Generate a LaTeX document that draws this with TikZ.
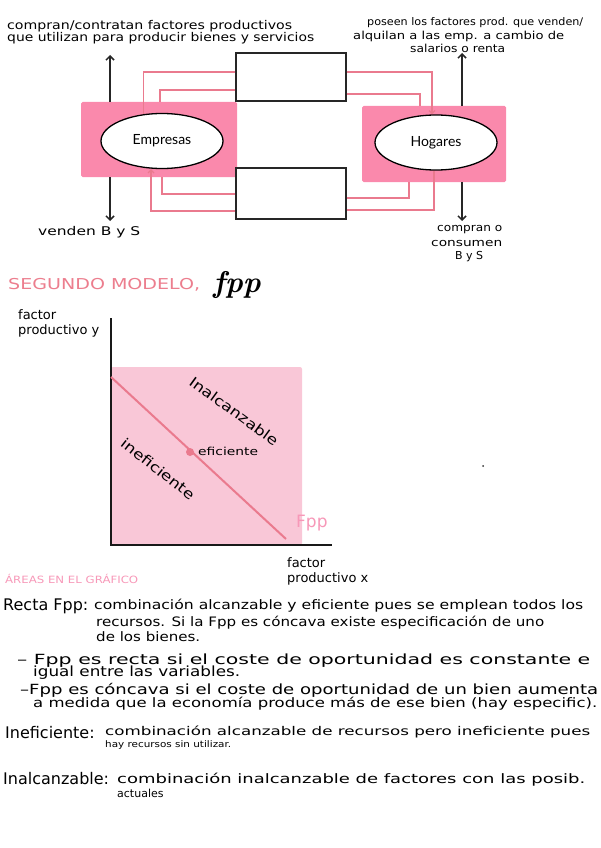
\documentclass[tikz,border=0pt]{standalone}
\usepackage{graphicx}
\usepackage{fontspec}
\newfontfamily\hand{DejaVu Sans}
\newfontfamily\limpia{Lato}
\usetikzlibrary{shapes.geometric,arrows.meta}
\definecolor{rosaFuerte}{RGB}{250,137,172}
\definecolor{rosaLinea}{RGB}{234,122,142}
\definecolor{rosaClaro}{RGB}{249,199,215}
\definecolor{rosaTitulo}{RGB}{236,126,142}
\definecolor{rosaFpp}{RGB}{247,152,184}
\newcommand\tam[1]{\fontsize{#1}{#1}\selectfont}
\newcommand\renglon[2]{\resizebox{#1pt}{\height}{\hbox{#2}}}
\begin{document}
\begin{tikzpicture}[
x=1pt, y=-1pt,
sector/.style={rectangle, fill=rosaFuerte, rounded corners=1.5pt, inner sep=0pt},
agente/.style={ellipse, draw=black, fill=white, line width=1.3pt, minimum width=122pt, minimum height=55pt, inner sep=0pt, font=\limpia\tam{14}},
mercado/.style={rectangle, draw=black!85, fill=white, line width=1.3pt, minimum width=110pt, inner sep=0pt},
flujo/.style={rosaLinea, line width=1.2pt},
flujoflecha/.style={flujo, -{Straight Barb[length=3pt,width=6pt]}},
flecha/.style={line width=1.5pt, black!85, -{Straight Barb[length=4pt,width=8pt]}},
nota/.style={anchor=base west, inner sep=0pt, font=\hand, text=black}
]
\useasboundingbox (0,0) rectangle (600,848);

\node[sector, minimum width=156pt, minimum height=75pt] (empR) at (159,139.5) {};
\node[sector, minimum width=144pt, minimum height=76pt] (hogR) at (434,144) {};
\node[mercado, minimum height=48pt] (mf) at (291,77) {};
\node[mercado, minimum height=51pt] (mbs) at (291,193.5) {};
\node[agente] (emp) at (162,141) {Empresas};
\node[agente] (hog) at (436,142.5) {Hogares};

\draw[flujo] ([yshift=5pt]mf.west) -| (emp.125);
\draw[flujo] ([yshift=-13pt]mf.west) -| ([xshift=1pt]empR.north);
\draw[flujoflecha] ([yshift=5pt]mf.east) -| ([xshift=-4pt]hog.north);
\draw[flujo] ([yshift=-17pt]mf.east) -| ([xshift=-14pt]hogR.north);
\draw[flujo] ([yshift=-0.5pt]mbs.west) -| ([xshift=3pt]empR.south);
\draw[flujoflecha] ([yshift=-17.5pt]mbs.west) -| ([xshift=-11pt]emp.south);
\draw[flujo] ([yshift=-4.5pt]mbs.east) -| ([xshift=-25pt]hogR.south);
\draw[flujo] ([yshift=-16.5pt]mbs.east) -| ([xshift=-2pt]hog.south);

\coordinate (empArriba) at (110,55);
\coordinate (empAbajo) at (110,221);
\coordinate (hogArriba) at (462,53);
\coordinate (hogAbajo) at (462,221);
\draw[flecha] (empR.north -| empArriba) -- (empArriba);
\draw[flecha] (empR.south -| empAbajo) -- (empAbajo);
\draw[flecha] (hogR.north -| hogArriba) -- (hogArriba);
\draw[flecha] (hogR.south -| hogAbajo) -- (hogAbajo);

\node[nota] (t1) at (7,30) {\tam{12}\renglon{285}{compran/contratan factores productivos}};
\node[nota] (t2) at (7,42) {\tam{12}\renglon{307}{que utilizan para producir bienes y servicios}};
\node[nota] (r1) at (367,26) {\tam{10.5}\renglon{216}{poseen los factores prod. que venden/}};
\node[nota] (r2) at (353,40) {\tam{11}\renglon{211}{alquilan a las emp. a cambio de}};
\node[nota] (r3) at (410,53) {\tam{11}\renglon{95}{salarios o renta}};
\node[nota] (vend) at (38,235) {\tam{12}\renglon{102}{venden B y S}};
\node[nota] (comp1) at (437,231) {\tam{11}\renglon{65}{compran o}};
\node[nota] (comp2) at (431,246) {\tam{11}\renglon{71}{consumen}};
\node[nota] (comp3) at (455,259) {\tam{11}\renglon{28}{B y S}};

\node[nota, text=rosaTitulo] (seg) at (8,289) {\tam{15}\renglon{192}{SEGUNDO MODELO,}};
\node[nota] (fpp) at (213,292) {\rmfamily\bfseries\itshape\tam{30}fpp};

\fill[rosaClaro, rounded corners=2pt] (111,367) rectangle (302,545);
\coordinate (O) at (111,545);
\draw[line width=1.8pt, black!90] (111,318) -- (O) -- (332,545);
\draw[line width=2pt, rosaLinea] (111,377) -- (286,539);
\node[circle, fill=rosaLinea, minimum size=8pt, inner sep=0pt] (efi) at (190,452) {};
\node[nota] (efiT) at (198,455) {\tam{11}\renglon{60}{eficiente}};
\node[font=\hand\tam{14}, rotate=-36, inner sep=0pt] (inal) at (234,411) {\renglon{106}{Inalcanzable}};
\node[font=\hand\tam{14}, rotate=-38, inner sep=0pt] (inef) at (158,469) {\renglon{89}{ineficiente}};
\node[nota, text=rosaFpp] (fppT) at (296,527) {\tam{17}Fpp};
\node[nota] (ejeY1) at (18,319) {\tam{13}factor};
\node[nota] (ejeY2) at (18,334) {\tam{13}productivo y};
\node[nota] (ejeX1) at (287,567) {\tam{13}factor};
\node[nota] (ejeX2) at (287,582) {\tam{13}productivo x};
\node[nota, text=rosaFpp] (areas) at (5,583) {\tam{10}\renglon{133}{ÁREAS EN EL GRÁFICO}};

\node[nota] (recta) at (3,610) {\tam{16}Recta Fpp:};
\node[nota] (b1) at (94,609) {\tam{13}\renglon{489}{combinación alcanzable y eficiente pues se emplean todos los}};
\node[nota] (b2) at (96,626) {\tam{13}\renglon{448}{recursos. Si la Fpp es cóncava existe especificación de uno}};
\node[nota] (b3) at (96,641) {\tam{13}\renglon{104}{de los bienes.}};
\node[nota] (b4) at (17,664) {\tam{14}\renglon{573}{– Fpp es recta si el coste de oportunidad es constante e}};
\node[nota] (b5) at (33,676) {\tam{14}\renglon{207}{igual entre las variables.}};
\node[nota] (b6) at (20,694) {\tam{14}\renglon{578}{–Fpp es cóncava si el coste de oportunidad de un bien aumenta}};
\node[nota] (b7) at (33,707) {\tam{13}\renglon{564}{a medida que la economía produce más de ese bien (hay especific).}};

\node[nota] (inefH) at (5,738) {\tam{16}Ineficiente:};
\node[nota] (c1) at (105,735) {\tam{12}\renglon{485}{combinación alcanzable de recursos pero ineficiente pues}};
\node[nota] (c2) at (105,747) {\tam{9}\renglon{126}{hay recursos sin utilizar.}};
\node[nota] (inalH) at (3,784) {\tam{16}Inalcanzable:};
\node[nota] (d1) at (117,783) {\tam{13}\renglon{468}{combinación inalcanzable de factores con las posib.}};
\node[nota] (d2) at (117,797) {\tam{11}actuales};

\fill[black!80] (483,466) circle (1);
\end{tikzpicture}
\end{document}
